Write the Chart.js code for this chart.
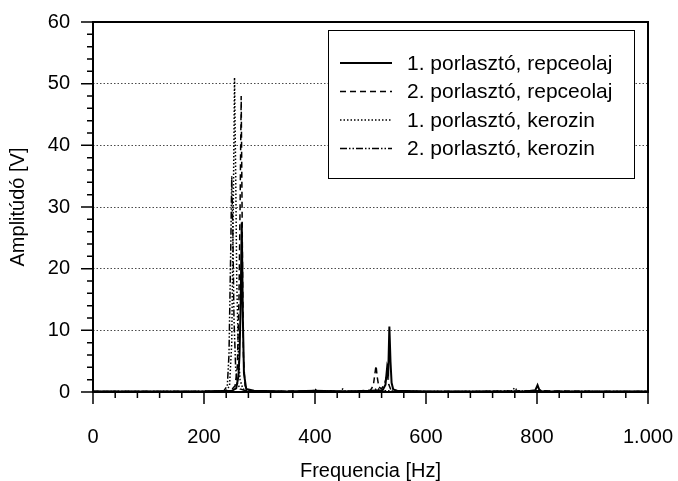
<!DOCTYPE html>
<html>
<head>
<meta charset="utf-8">
<script src="https://cdn.jsdelivr.net/npm/chart.js@4"></script>
<style>
  html, body { margin: 0; padding: 0; background: #fff; }
</style>
</head>
<body>
<canvas id="spectrum" width="678" height="481"></canvas>
<script>
// Spectrum of the four atomizer / fuel combinations

const seriesLabels = [
  '1. porlasztó, repceolaj',
  '2. porlasztó, repceolaj',
  '1. porlasztó, kerozin',
  '2. porlasztó, kerozin'
];

// 1. porlasztó, repceolaj (solid)
const freqRepce1 = [0, 50, 120, 200, 250, 258, 262, 264, 266, 268, 270, 272, 276, 290, 350, 400, 450, 500, 522, 527, 530, 532, 534, 536, 538, 541, 548, 600, 700, 780, 797, 801, 804, 808, 850, 950, 1000];
const ampRepce1  = [0.1, 0.1, 0.1, 0.1, 0.2, 0.6, 2.5, 6, 14, 27.5, 12, 3, 0.5, 0.2, 0.1, 0.2, 0.1, 0.2, 0.3, 1.2, 4, 3.2, 10.6, 5, 1.5, 0.4, 0.2, 0.1, 0.1, 0.1, 0.3, 1.1, 0.4, 0.1, 0.1, 0.1, 0.1];

// 2. porlasztó, repceolaj (dashed)
const freqRepce2 = [0, 100, 200, 248, 256, 260, 263, 265, 267, 269, 271, 274, 280, 320, 400, 470, 500, 505, 508, 510, 512, 515, 520, 526, 530, 533, 537, 545, 600, 700, 800, 900, 1000];
const ampRepce2  = [0.1, 0.1, 0.1, 0.2, 1, 4, 15, 30, 48, 25, 6, 1, 0.2, 0.1, 0.2, 0.1, 0.3, 1, 3, 4.3, 2.5, 0.8, 0.5, 1.5, 3, 1.2, 0.3, 0.1, 0.1, 0.1, 0.2, 0.1, 0.1];

// 1. porlasztó, kerozin (dotted)
const freqKero1 = [0, 100, 200, 240, 246, 250, 253, 255, 257, 259, 262, 265, 270, 280, 350, 450, 505, 512, 520, 600, 700, 755, 760, 765, 800, 900, 1000];
const ampKero1  = [0.1, 0.1, 0.1, 0.2, 1, 8, 32, 51, 36, 18, 6, 2, 0.5, 0.1, 0.1, 0.1, 0.2, 0.6, 0.2, 0.1, 0.1, 0.2, 0.7, 0.2, 0.1, 0.1, 0.1];

// 2. porlasztó, kerozin (dash-dot-dot)
const freqKero2 = [0, 100, 200, 236, 242, 245, 248, 250, 252, 254, 257, 260, 265, 275, 300, 395, 400, 405, 430, 445, 450, 455, 500, 600, 800, 1000];
const ampKero2  = [0.1, 0.1, 0.1, 0.2, 1, 6, 22, 35, 26, 12, 4, 1.5, 0.5, 0.2, 0.1, 0.1, 0.5, 0.1, 0.2, 0.1, 0.5, 0.1, 0.1, 0.1, 0.1, 0.1];

const xMin = 0, xMax = 1000, xMajor = 200, xMinor = 40;
const yMin = 0, yMax = 60, yMajor = 10, yMinor = 2;

const FONT = '"Liberation Sans", Arial, Helvetica, sans-serif';
Chart.defaults.font.family = FONT;
Chart.defaults.color = '#000';

const toPoints = (xs, ys) => xs.map((f, i) => ({ x: f, y: ys[i] }));

const lineStyles = [
  { borderWidth: 2, borderDash: [] },
  { borderWidth: 1.5, borderDash: [6, 4] },
  { borderWidth: 1.5, borderDash: [1.5, 2] },
  { borderWidth: 1.5, borderDash: [7, 2, 1.5, 2, 1.5, 2] }
];

const seriesData = [
  toPoints(freqRepce1, ampRepce1),
  toPoints(freqRepce2, ampRepce2),
  toPoints(freqKero1, ampKero1),
  toPoints(freqKero2, ampKero2)
];

// axis frame, minor/major ticks and the boxed legend
const frameAndLegend = {
  id: 'frameAndLegend',
  afterDraw(chart) {
    const { ctx, chartArea: a, scales } = chart;
    const xs = scales.x, ys = scales.y;
    ctx.save();
    ctx.strokeStyle = '#000';
    ctx.lineWidth = 1.5;
    ctx.beginPath();
    for (let v = xMin; v <= xMax; v += xMinor) {
      const px = xs.getPixelForValue(v);
      const len = v % xMajor === 0 ? 12 : 6;
      ctx.moveTo(px, a.bottom);
      ctx.lineTo(px, a.bottom + len);
    }
    for (let v = yMin; v <= yMax; v += yMinor) {
      const py = ys.getPixelForValue(v);
      const len = v % yMajor === 0 ? 12 : 6;
      ctx.moveTo(a.left, py);
      ctx.lineTo(a.left - len, py);
    }
    ctx.stroke();

    ctx.lineWidth = 2;
    ctx.strokeRect(a.left, a.top, a.right - a.left, a.bottom - a.top);

    // legend box
    const bw = 306, bh = 148;
    const bx = a.right - 14 - bw, by = a.top + 8;
    ctx.fillStyle = '#fff';
    ctx.fillRect(bx, by, bw, bh);
    ctx.lineWidth = 1;
    ctx.strokeRect(bx + 0.5, by + 0.5, bw, bh);

    ctx.font = '21px ' + FONT;
    ctx.textBaseline = 'middle';
    ctx.fillStyle = '#000';
    chart.data.datasets.forEach((ds, i) => {
      const yy = by + 33 + i * 28.5;
      ctx.setLineDash(ds.borderDash || []);
      ctx.lineWidth = ds.borderWidth;
      ctx.beginPath();
      ctx.moveTo(bx + 12, yy);
      ctx.lineTo(bx + 64, yy);
      ctx.stroke();
      ctx.setLineDash([]);
      ctx.fillText(ds.label, bx + 79, yy + 1);
    });
    ctx.restore();
  }
};

new Chart(document.getElementById('spectrum'), {
  type: 'line',
  data: {
    datasets: seriesLabels.map((label, i) => ({
      label,
      data: seriesData[i],
      borderColor: '#000',
      backgroundColor: '#000',
      borderWidth: lineStyles[i].borderWidth,
      borderDash: lineStyles[i].borderDash,
      pointRadius: 0,
      tension: 0,
      fill: false
    }))
  },
  options: {
    responsive: false,
    animation: false,
    layout: { padding: { left: 0, right: 30, top: 22, bottom: 0 } },
    plugins: {
      legend: { display: false },
      tooltip: { enabled: false }
    },
    scales: {
      x: {
        type: 'linear',
        min: xMin,
        max: xMax,
        afterFit: (s) => { s.height = 89; s.paddingLeft = 0; s.paddingRight = 0; },
        grid: { display: false, drawTicks: false },
        border: { display: false },
        ticks: {
          stepSize: xMajor,
          maxRotation: 0,
          autoSkip: false,
          padding: 33,
          font: { size: 20 },
          callback: (v) => v === 1000 ? '1.000' : String(v)
        },
        title: {
          display: true,
          text: 'Frequencia [Hz]',
          font: { size: 20 },
          padding: { top: 0, bottom: -2 }
        }
      },
      y: {
        min: yMin,
        max: yMax,
        afterFit: (s) => { s.width = 93; s.paddingTop = 0; s.paddingBottom = 0; },
        grid: {
          drawTicks: false,
          lineWidth: 1,
          color: (c) => (c.tick && c.tick.value > yMin && c.tick.value < yMax) ? '#4a4a4a' : 'rgba(0,0,0,0)'
        },
        border: { display: false, dash: [1.5, 2] },
        ticks: {
          stepSize: yMajor,
          padding: 23,
          font: { size: 20 }
        },
        title: {
          display: true,
          text: 'Amplitúdó [V]',
          font: { size: 20 },
          padding: { top: 6, bottom: 0 }
        }
      }
    }
  },
  plugins: [frameAndLegend]
});
</script>
</body>
</html>
